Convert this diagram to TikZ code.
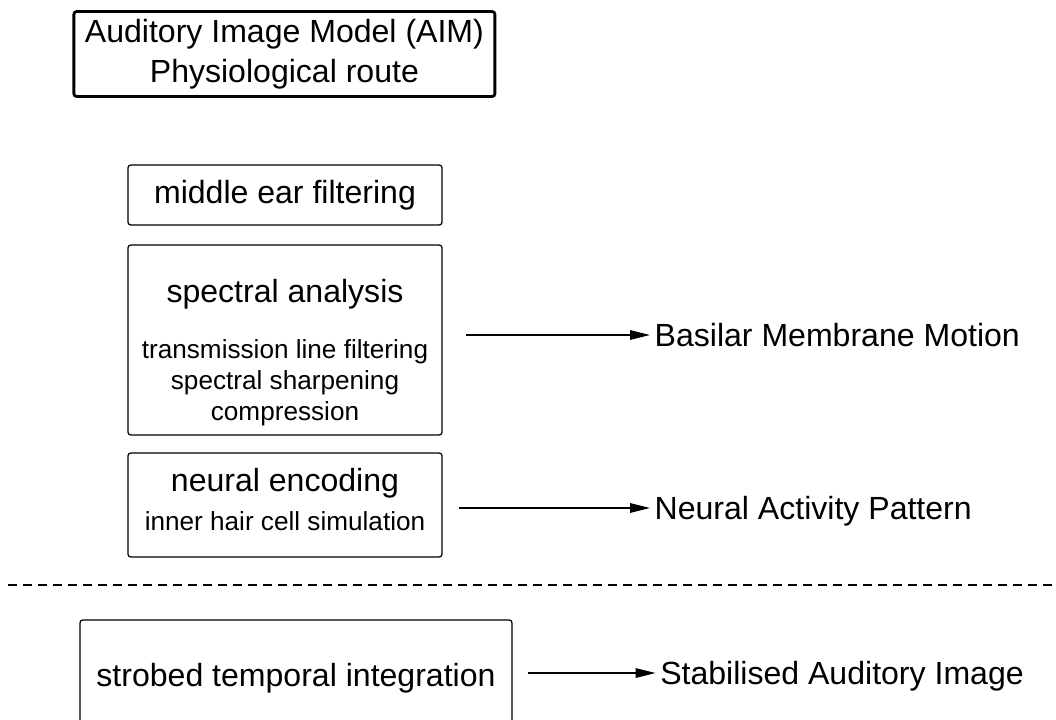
\documentclass[tikz,border=0pt]{standalone}
\usepackage{fontspec}
\setmainfont{Liberation Sans}
\usetikzlibrary{arrows.meta}
\newcommand{\bigtxt}{\fontsize{22.8}{28.5}\selectfont}
\newcommand{\smalltxt}{\fontsize{18.6}{22}\selectfont}

\begin{document}
\begin{tikzpicture}
	\useasboundingbox (0,0) rectangle (26.4,-17.975);
	\node[draw, line width=2pt, rounded corners=2pt, align=center, minimum width=10.525cm, minimum height=2.125cm, font=\bigtxt] (AIM) at (7.11,-1.35) {Auditory Image Model (AIM)\\Physiological route};
	\begin{scope}[every node/.style={draw, line width=0.9pt, rounded corners=2pt, align=center, minimum width=7.85cm, inner sep=0pt, font=\smalltxt}]
		\node[minimum height=1.5cm] (ME) at (7.125,-4.875) {\bigtxt middle ear filtering};
		\node[minimum height=4.75cm] (SA) at (7.125,-8.5) {{\bigtxt\rule{0pt}{1.2cm}spectral analysis}\\[0.62cm]transmission line filtering\\spectral sharpening\\compression};
		\node[minimum height=2.6cm] (NE) at (7.125,-12.625) {{\bigtxt neural encoding}\\[0.2cm]inner hair cell simulation\rule[-0.3cm]{0pt}{0pt}};
		\node[minimum width=10.8cm, minimum height=2.9cm] (STI) at (7.4,-16.95) {\bigtxt strobed temporal integration};
	\end{scope}
	\begin{scope}[every node/.style={anchor=west, inner sep=0pt, text depth=0pt, font=\bigtxt}]
		\node (BMM) at (16.36,-8.375) {Basilar Membrane Motion};
		\node (NAP) at (16.36,-12.7) {Neural Activity Pattern};
		\node (SAI) at (16.5,-16.825) {Stabilised Auditory Image};
	\end{scope}
	\begin{scope}[every edge/.style={draw, line width=0.9pt, -{Triangle[length=0.5cm, width=0.24cm]}, shorten >=0.11cm}]
		\path (SA.east |- BMM.west) edge[shorten <=0.575cm] (BMM.west);
		\path (NE.east |- NAP.west) edge[shorten <=0.4cm] (NAP.west);
		\path (STI.east |- SAI.west) edge[shorten <=0.375cm] (SAI.west);
	\end{scope}
	% separator
	\draw[line width=1.5pt, dash pattern=on 0.225cm off 0.15cm] (0.2,-14.625) -- (26.4,-14.625);
\end{tikzpicture}
\end{document}
